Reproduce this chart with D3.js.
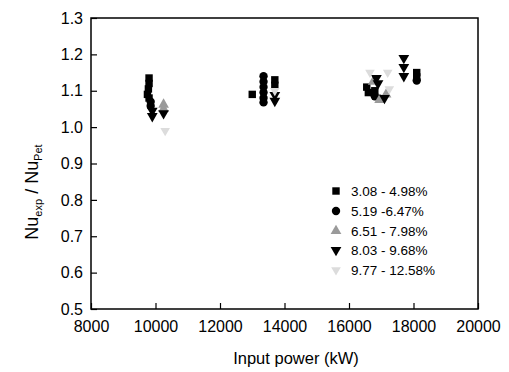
<!DOCTYPE html>
<html>
<head>
<meta charset="utf-8">
<script src="https://cdn.jsdelivr.net/npm/d3@7"></script>
<style>
body { margin: 0; background: #fff; }
text { font-family: Arial, "Liberation Sans", sans-serif; fill: #000; }
</style>
</head>
<body>
<div id="svg-container"></div>
<script>
// data: [input power kW, Nu_exp/Nu_Pet]
var seriesNames = ['3.08 - 4.98%', '5.19 -6.47%', '6.51 - 7.98%', '8.03 - 9.68%', '9.77 - 12.58%'];
var squares = [[9800,1.135],[9800,1.12],[9780,1.105],[9750,1.09],[9800,1.08],
	[13000,1.09],[13700,1.13],[13700,1.115],[16550,1.11],[16600,1.095],[16800,1.10],
	[18100,1.15],[18100,1.138]];
var circles = [[9850,1.07],[9850,1.058],[13350,1.14],[13350,1.125],[13350,1.11],
	[13350,1.095],[13350,1.08],[13350,1.068],[16800,1.085],[16950,1.078],[18100,1.128]];
var triUp = [[10250,1.062],[10250,1.05],[16750,1.125],[17150,1.09],[16950,1.075]];
var triDown = [[9900,1.045],[9900,1.03],[10250,1.038],[13700,1.088],[13700,1.072],
	[16850,1.135],[16900,1.12],[17100,1.08],[17700,1.19],[17700,1.165],[17700,1.14]];
var faint = [[10300,0.99],[13700,1.10],[17200,1.15],[17250,1.105],[16650,1.15]];
var xTicks = [8000, 10000, 12000, 14000, 16000, 18000, 20000];
var yTicks = [0.5, 0.6, 0.7, 0.8, 0.9, 1.0, 1.1, 1.2, 1.3];

var W = 509, H = 372;
var mLeft = 91, mRight = 478, mTop = 18, mBottom = 309;

var svg = d3.select('#svg-container').append('svg')
	.attr('width', W).attr('height', H);

var x = d3.scaleLinear().domain([8000, 20000]).range([mLeft, mRight]);
var y = d3.scaleLinear().domain([0.5, 1.3]).range([mBottom, mTop]);

// frame
svg.append('rect')
	.attr('x', mLeft).attr('y', mTop)
	.attr('width', mRight - mLeft).attr('height', mBottom - mTop)
	.attr('fill', 'none').attr('stroke', '#000').attr('stroke-width', 1.5);

// x axis, ticks point inward
var xAx = svg.append('g').attr('transform', 'translate(0,' + mBottom + ')')
	.call(d3.axisBottom(x).tickValues(d3.range(8000, 20001, 1000)).tickSize(-3).tickFormat(''));
xAx.call(d3.axisBottom(x).tickValues(xTicks).tickSize(-6).tickPadding(12).tickFormat(d3.format('d')));
xAx.select('.domain').remove();
xAx.selectAll('line').attr('stroke-width', 1.2);
xAx.selectAll('text').style('font-size', '16px').attr('font-family', 'Arial, Liberation Sans, sans-serif');

var yAx = svg.append('g').attr('transform', 'translate(' + mLeft + ',0)')
	.call(d3.axisLeft(y).tickValues(d3.range(0.5, 1.3001, 0.05)).tickSize(-3).tickFormat(''));
yAx.call(d3.axisLeft(y).tickValues(yTicks).tickSize(-6).tickPadding(8).tickFormat(d3.format('.1f')));
yAx.select('.domain').remove();
yAx.selectAll('line').attr('stroke-width', 1.2);
yAx.selectAll('text').style('font-size', '16px').attr('font-family', 'Arial, Liberation Sans, sans-serif');

// axis titles
svg.append('text')
	.attr('x', 296).attr('y', 364)
	.attr('text-anchor', 'middle')
	.style('font-size', '16.5px')
	.text('Input power (kW)');

var yt = svg.append('text')
	.attr('transform', 'translate(38,' + 192 + ') rotate(-90)')
	.attr('text-anchor', 'middle')
	.style('font-size', '18px');
yt.append('tspan').text('Nu');
yt.append('tspan').attr('dy', 4).style('font-size', '11px').text('exp');
yt.append('tspan').attr('dy', -4).text(' / Nu');
yt.append('tspan').attr('dy', 4).style('font-size', '11px').text('Pet');

// markers
var sym = {
	sq: d3.symbol().type(d3.symbolSquare).size(55),
	ci: d3.symbol().type(d3.symbolCircle).size(55),
	up: d3.symbol().type(d3.symbolTriangle).size(50),
	dn: d3.symbol().type(d3.symbolTriangle).size(50),
	fa: d3.symbol().type(d3.symbolTriangle).size(40)
};
var groups = [
	{ data: squares, s: sym.sq, color: '#000', rot: 0 },
	{ data: circles, s: sym.ci, color: '#000', rot: 0 },
	{ data: triUp, s: sym.up, color: '#9a9a9a', rot: 0 },
	{ data: triDown, s: sym.dn, color: '#000', rot: 180 },
	{ data: faint, s: sym.fa, color: '#dcdcdc', rot: 180 }
];

groups.forEach(function(g) {
	svg.append('g').selectAll('path')
		.data(g.data)
		.enter()
		.append('path')
		.attr('d', g.s)
		.attr('transform', function(d) {
			return 'translate(' + x(d[0]) + ',' + y(d[1]) + ') rotate(' + g.rot + ')';
		})
		.attr('fill', g.color);
});

// legend
var legY = [191, 211, 231, 250, 270];
var leg = svg.append('g');
groups.forEach(function(g, i) {
	leg.append('path')
		.attr('d', g.s)
		.attr('transform', 'translate(336,' + legY[i] + ') rotate(' + g.rot + ')')
		.attr('fill', g.color);
	leg.append('text')
		.attr('x', 351).attr('y', legY[i] + 5)
		.style('font-size', '13.5px')
		.text(seriesNames[i]);
});
</script>
</body>
</html>
